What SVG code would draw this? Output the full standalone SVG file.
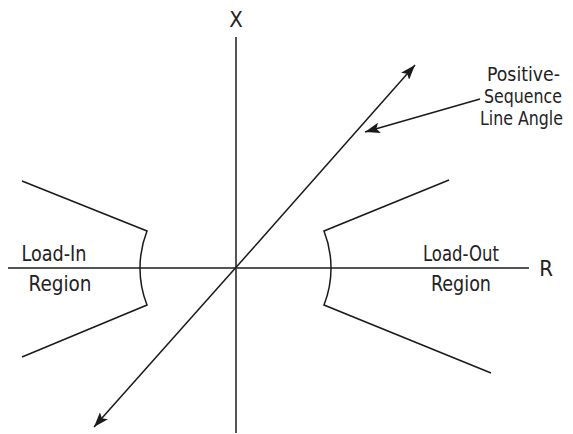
<svg xmlns="http://www.w3.org/2000/svg" width="573" height="434" viewBox="0 0 573 434">
<defs>
<style>
.axis{stroke:#555;stroke-width:2;fill:none}
.ln{stroke:#1a1a1a;stroke-width:1.5;fill:none}
.t{font-family:"DejaVu Sans Condensed","DejaVu Sans","Liberation Sans",sans-serif;font-stretch:condensed;font-size:22px;fill:#222;text-anchor:middle}
.lbl{font-size:20px;text-anchor:end}
</style>
<marker id="ah" viewBox="0 0 14 10" refX="14" refY="5" markerWidth="15" markerHeight="11" markerUnits="userSpaceOnUse" orient="auto">
<path d="M0,0 L14,5 L0,10 L3,5 Z" fill="#1a1a1a"/>
</marker>
</defs>
<rect width="573" height="434" fill="#fff"/>
<g id="axes">
<line class="axis" x1="8" y1="268" x2="529" y2="268"/>
<line class="axis" x1="236" y1="37" x2="236" y2="433"/>
<text class="t" x="236" y="27">X</text>
<text class="t" x="546" y="276">R</text>
</g>
<g id="load-in">
<path class="ln" d="M22,181 L147,231 A101,101 0 0 0 147,305 L22,357"/>
<text class="t" x="54" y="261" textLength="65" lengthAdjust="spacingAndGlyphs">Load-In</text>
<text class="t" x="60" y="291" textLength="63" lengthAdjust="spacingAndGlyphs">Region</text>
</g>
<g id="load-out">
<path class="ln" d="M449,180 L324,231 A101,101 0 0 1 324,305 L491,373"/>
<text class="t" x="461" y="261" textLength="76" lengthAdjust="spacingAndGlyphs">Load-Out</text>
<text class="t" x="461" y="291" textLength="60" lengthAdjust="spacingAndGlyphs">Region</text>
</g>
<g id="line-angle-label">
<text class="t lbl" x="560" y="81" textLength="73" lengthAdjust="spacingAndGlyphs">Positive-</text>
<text class="t lbl" x="562" y="103" textLength="78" lengthAdjust="spacingAndGlyphs">Sequence</text>
<text class="t lbl" x="563" y="125" textLength="83" lengthAdjust="spacingAndGlyphs">Line Angle</text>
</g>
<g id="connectors">
<line class="ln" x1="255" y1="246" x2="415" y2="65" marker-end="url(#ah)"/>
<line class="ln" x1="255" y1="246" x2="94" y2="427" marker-end="url(#ah)"/>
<line class="ln" x1="480" y1="99" x2="365" y2="132" marker-end="url(#ah)"/>
</g>
</svg>
